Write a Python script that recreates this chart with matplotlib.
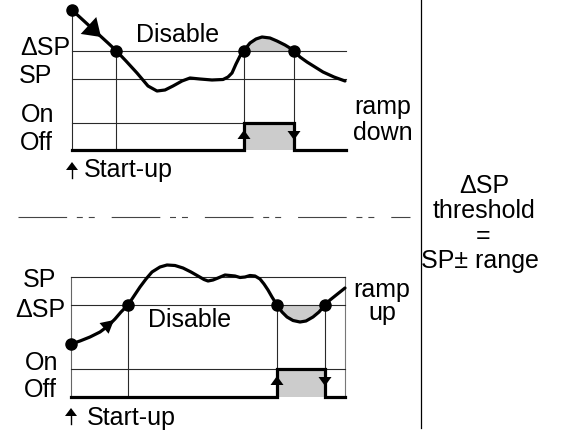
import numpy as np
import matplotlib as mpl
mpl.use('Agg')
import matplotlib.pyplot as plt
from matplotlib.patches import Polygon

mpl.rcParams['font.family'] = ['Liberation Sans', 'DejaVu Sans']
mpl.rcParams['lines.scale_dashes'] = False

# diagram geometry, in pixel units (y grows downwards)
# top panel: ramp down
top_x = [72, 84, 96, 108, 116, 126, 137, 148, 157, 165, 173, 182, 190, 200, 212, 223, 228,
         232, 236, 240, 244, 250, 256, 262, 270, 277, 285, 294, 300, 307, 315, 323, 334, 345]
top_y = [10, 21, 32, 43, 50.5, 61, 73, 86, 91, 90, 86, 81, 78, 79, 80, 79.5, 77,
         73, 64, 56, 50.5, 43, 39, 37, 38, 41, 45, 50.5, 57, 62, 67, 72, 77, 81]
top_dots_x = [72, 116, 244, 294]
top_dots_y = [10, 50.5, 50.5, 50.5]
top_levels = {'dsp': 50.5, 'sp': 79, 'on': 123, 'off': 150}
top_pulse = [244, 294]

# bottom panel: ramp up
bot_x = [71, 80, 90, 100, 108, 115, 121, 128, 134, 140, 146, 152, 160, 167, 175, 183, 191,
         198, 204, 208, 213, 218, 225, 230, 235, 240, 245, 250, 255, 260, 264, 268, 272,
         277, 282, 287, 293, 300, 306, 313, 319, 325, 330, 335, 340, 345]
bot_y = [344, 341, 337, 332, 326, 319, 312, 305, 296, 287, 279, 272, 267, 265, 265.5, 268, 272,
         276, 279.5, 281, 280, 278, 275, 275.5, 276, 277.5, 277, 275.5, 276, 279, 284, 290, 297,
         305, 312, 317, 320.5, 322, 321, 317, 312, 305, 300, 296, 292, 288]
bot_dots_x = [71, 128, 277, 325]
bot_dots_y = [344, 305, 305, 305]
bot_levels = {'sp': 277, 'dsp': 305, 'on': 369, 'off': 397}
bot_pulse = [277, 325]

THIN = '#2a2a2a'
GREY = '#cccccc'
LW_THICK = 2.3
LW_THIN = 0.8
FS = 18

fig = plt.figure(figsize=(5.68, 4.32), dpi=100)
ax = fig.add_axes([0, 0, 1, 1])
ax.set_xlim(0, 568)
ax.set_ylim(432, 0)
ax.axis('off')


def head(ax, tip, direction, length, width):
    # filled arrow head, sizes in pixels
    d = np.array(direction, float)
    d /= np.hypot(*d)
    n = np.array([-d[1], d[0]])
    tip = np.array(tip, float)
    base = tip - d * length
    pts = [tip, base + n * width / 2, base - n * width / 2]
    ax.add_patch(Polygon(pts, closed=True, color='k', lw=0, zorder=5))


def panel(ax, cx, cy, dx, dy, lv, pulse, x0, x1, box_top=None):
    cx = np.array(cx)
    cy = np.array(cy)
    # reference lines
    ax.plot([x0, x1], [lv['dsp']] * 2, color=THIN, lw=LW_THIN)
    ax.plot([x0, x1], [lv['sp']] * 2, color=THIN, lw=LW_THIN)
    ax.plot([x0, pulse[0]], [lv['on']] * 2, color=THIN, lw=LW_THIN)
    if box_top:
        ax.plot([pulse[1], x1], [lv['on']] * 2, color=THIN, lw=LW_THIN)
    # drop lines from the crossing points
    ax.plot([dx[1]] * 2, [dy[1], lv['off']], color=THIN, lw=LW_THIN)
    for px in pulse:
        ax.plot([px] * 2, [lv['dsp'], lv['on']], color=THIN, lw=LW_THIN)
    # shaded area between the curve and the threshold
    m = (cx >= pulse[0]) & (cx <= pulse[1])
    ax.fill_between(cx[m], cy[m], lv['dsp'], color=GREY, lw=0)
    # relay output pulse
    ax.fill_between(pulse, lv['on'], lv['off'], color=GREY, lw=0)
    ax.plot([x0, pulse[0], pulse[0], pulse[1], pulse[1], x1],
            [lv['off'], lv['off'], lv['on'], lv['on'], lv['off'], lv['off']],
            color='k', lw=LW_THICK, solid_joinstyle='miter')
    # curve and dots
    ax.plot(cx, cy, color='k', lw=LW_THICK, solid_capstyle='round', solid_joinstyle='round')
    ax.plot(dx, dy, 'o', color='k', ms=8)
    # pulse edge arrows
    head(ax, (pulse[0], lv['on'] + 7), (0, -1), 9, 13)
    head(ax, (pulse[1], lv['on'] + 17), (0, 1), 9, 13)


def startup(ax, x, y0, y1):
    ax.plot([x, x], [y0, y1 + 4], color='k', lw=1)
    head(ax, (x, y1), (0, -1), 8, 12)


# top panel
ax.plot([72, 72], [10, 150], color=THIN, lw=LW_THIN)
panel(ax, top_x, top_y, top_dots_x, top_dots_y, top_levels, top_pulse, 72, 346)
head(ax, (101, 37), (44, 40.5), 17, 23)
startup(ax, 72, 178, 162)
ax.text(20, 55, '\u0394SP', fontsize=FS, ha='left', va='baseline')
ax.text(19, 83, 'SP', fontsize=FS, ha='left', va='baseline')
ax.text(21, 122, 'On', fontsize=FS, ha='left', va='baseline')
ax.text(20, 150, 'Off', fontsize=FS, ha='left', va='baseline')
ax.text(136, 42, 'Disable', fontsize=FS, ha='left', va='baseline')
ax.text(84, 177, 'Start-up', fontsize=FS, ha='left', va='baseline')
ax.text(383, 114, 'ramp', fontsize=FS, ha='center', va='baseline')
ax.text(383, 140, 'down', fontsize=FS, ha='center', va='baseline')

# separator
ax.plot([18, 410], [217, 217], color='#444444', lw=0.8,
        dashes=[35, 7, 4.3, 4.3, 4.3, 12.2])
ax.plot([421, 421], [0, 428], color='k', lw=0.9)
ax.text(484, 193, '\u0394SP', fontsize=FS, ha='center', va='baseline')
ax.text(484, 218, 'threshold', fontsize=FS, ha='center', va='baseline')
ax.text(483, 243, '=', fontsize=FS, ha='center', va='baseline')
ax.text(480, 268, 'SP\u00b1 range', fontsize=FS, ha='center', va='baseline')

# bottom panel
ax.plot([71, 71], [277, 397], color='#666666', lw=LW_THIN)
ax.plot([345, 345], [277, 397], color='#777777', lw=LW_THIN)
panel(ax, bot_x, bot_y, bot_dots_x, bot_dots_y, bot_levels, bot_pulse, 71, 345, box_top=True)
head(ax, (114, 320), (13, -11), 13, 14)
startup(ax, 71, 424, 408)
ax.text(40, 287, 'SP', fontsize=FS, ha='center', va='baseline')
ax.text(40, 317, '\u0394SP', fontsize=FS, ha='center', va='baseline')
ax.text(42, 370, 'On', fontsize=FS, ha='center', va='baseline')
ax.text(40, 397, 'Off', fontsize=FS, ha='center', va='baseline')
ax.text(148, 327, 'Disable', fontsize=FS, ha='left', va='baseline')
ax.text(87, 425, 'Start-up', fontsize=FS, ha='left', va='baseline')
ax.text(382, 297, 'ramp', fontsize=FS, ha='center', va='baseline')
ax.text(382, 320, 'up', fontsize=FS, ha='center', va='baseline')

fig.savefig('out.png', dpi=100)
